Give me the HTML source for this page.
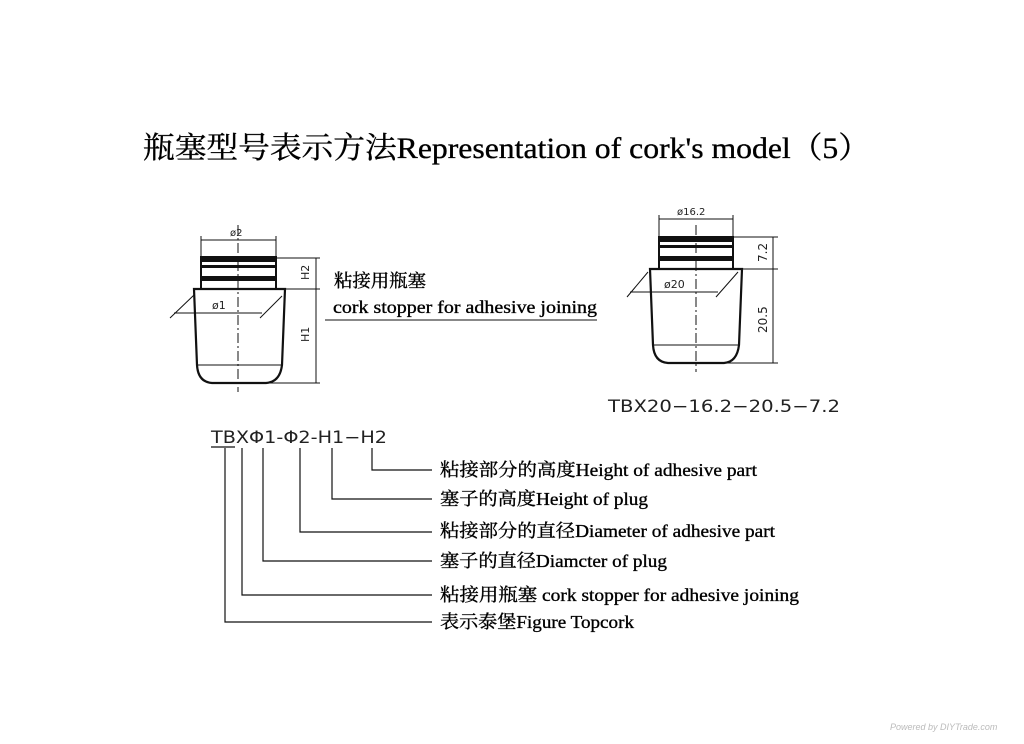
<!DOCTYPE html>
<html><head><meta charset="utf-8"><style>
html,body{margin:0;padding:0;background:#fff;width:1024px;height:744px;overflow:hidden}
svg{display:block}
.s{font-family:"Liberation Serif","Noto Serif CJK SC","Noto Sans CJK SC",serif;fill:#000;stroke:#000;stroke-width:0.35}
.d{font-family:"DejaVu Sans","Liberation Sans",sans-serif;fill:#222}
</style></head><body>
<svg width="1024" height="744" viewBox="0 0 1024 744" xmlns="http://www.w3.org/2000/svg">
<text class="s" x="143" y="158" font-size="30" textLength="727" lengthAdjust="spacingAndGlyphs">瓶塞型号表示方法Representation of cork's model（5）</text>

<!-- left plug -->
<g stroke="#111" fill="none">
<rect x="201" y="257" width="75" height="32" stroke-width="2"/>
<rect x="201" y="258" width="75" height="4" fill="#111" stroke="none"/>
<rect x="201" y="265" width="75" height="3" fill="#111" stroke="none"/>
<rect x="201" y="276" width="75" height="5" fill="#111" stroke="none"/>
<path d="M194 289 H285 L282 365 Q280 382 266 383 H212 Q198 382 197 365 Z" stroke-width="2.2"/>
<line x1="197" y1="365" x2="282" y2="365" stroke-width="1"/>
<line x1="238" y1="225" x2="238" y2="392" stroke-width="1" stroke-dasharray="10,3,2,3"/>
<g stroke-width="1">
<line x1="201" y1="236" x2="201" y2="257"/><line x1="276" y1="236" x2="276" y2="257"/>
<line x1="201" y1="240" x2="276" y2="240"/>
<line x1="276" y1="258" x2="320" y2="258"/><line x1="285" y1="289" x2="320" y2="289"/><line x1="268" y1="383" x2="320" y2="383"/>
<line x1="316" y1="258" x2="316" y2="383"/>
<line x1="174" y1="313" x2="262" y2="313"/>
<line x1="170" y1="318" x2="194" y2="295"/><line x1="260" y1="318" x2="282" y2="296"/>
<line x1="325" y1="320" x2="597" y2="320"/>
</g>
</g>
<text class="d" x="230" y="236" font-size="10">ø2</text>
<text class="d" x="212" y="309" font-size="11">ø1</text>
<text class="d" font-size="11" transform="translate(309,280) rotate(-90)">H2</text>
<text class="d" font-size="11" transform="translate(309,342) rotate(-90)">H1</text>

<text class="s" x="334" y="287" font-size="18" textLength="92" lengthAdjust="spacingAndGlyphs">粘接用瓶塞</text>
<text class="s" x="333" y="313" font-size="18" textLength="264" lengthAdjust="spacingAndGlyphs">cork stopper for adhesive joining</text>

<!-- right plug -->
<g stroke="#111" fill="none">
<rect x="659" y="237" width="74" height="32" stroke-width="2"/>
<rect x="659" y="238" width="74" height="4" fill="#111" stroke="none"/>
<rect x="659" y="245" width="74" height="3" fill="#111" stroke="none"/>
<rect x="659" y="256" width="74" height="5" fill="#111" stroke="none"/>
<path d="M650 269 H742 L739 345 Q737 362 724 363 H668 Q654 362 653 345 Z" stroke-width="2.2"/>
<line x1="653" y1="345" x2="739" y2="345" stroke-width="1"/>
<line x1="696" y1="225" x2="696" y2="372" stroke-width="1" stroke-dasharray="10,3,2,3"/>
<g stroke-width="1">
<line x1="659" y1="215" x2="659" y2="237"/><line x1="733" y1="215" x2="733" y2="237"/>
<line x1="659" y1="219" x2="733" y2="219"/>
<line x1="733" y1="237" x2="778" y2="237"/><line x1="742" y1="269" x2="778" y2="269"/><line x1="724" y1="363" x2="778" y2="363"/>
<line x1="773" y1="237" x2="773" y2="363"/>
<line x1="630" y1="292" x2="718" y2="292"/>
<line x1="627" y1="297" x2="648" y2="272"/><line x1="716" y1="297" x2="738" y2="272"/>
</g>
</g>
<text class="d" x="677" y="215" font-size="10">ø16.2</text>
<text class="d" x="664" y="288" font-size="11">ø20</text>
<text class="d" font-size="12" transform="translate(767,262) rotate(-90)">7.2</text>
<text class="d" font-size="12" transform="translate(767,333) rotate(-90)">20.5</text>
<text class="d" x="608" y="412" font-size="17" fill="#333" textLength="232" lengthAdjust="spacingAndGlyphs">TBX20−16.2−20.5−7.2</text>

<!-- code -->
<text class="d" x="211" y="443" font-size="17" textLength="176" lengthAdjust="spacingAndGlyphs">TBXΦ1-Φ2-H1−H2</text>
<g stroke="#111" stroke-width="1.2" fill="none">
<line x1="211" y1="447" x2="235" y2="447"/>
<path d="M372 448 V470 H432"/>
<path d="M332 448 V499 H432"/>
<path d="M300 448 V532 H432"/>
<path d="M263 448 V561 H432"/>
<path d="M242 448 V595 H432"/>
<path d="M225 448 V622 H432"/>
</g>
<g class="s" font-size="18">
<text x="440" y="476" textLength="317" lengthAdjust="spacingAndGlyphs">粘接部分的高度Height of adhesive part</text>
<text x="440" y="505" textLength="208" lengthAdjust="spacingAndGlyphs">塞子的高度Height of plug</text>
<text x="440" y="537" textLength="335" lengthAdjust="spacingAndGlyphs">粘接部分的直径Diameter of adhesive part</text>
<text x="440" y="567" textLength="227" lengthAdjust="spacingAndGlyphs">塞子的直径Diamcter of plug</text>
<text x="440" y="601" textLength="359" lengthAdjust="spacingAndGlyphs">粘接用瓶塞 cork stopper for adhesive joining</text>
<text x="440" y="628" textLength="194" lengthAdjust="spacingAndGlyphs">表示泰堡Figure Topcork</text>
</g>
<text x="890" y="730" font-family="Liberation Sans,sans-serif" font-size="9" font-style="italic" fill="#bbb">Powered by DIYTrade.com</text>
</svg>
</body></html>
